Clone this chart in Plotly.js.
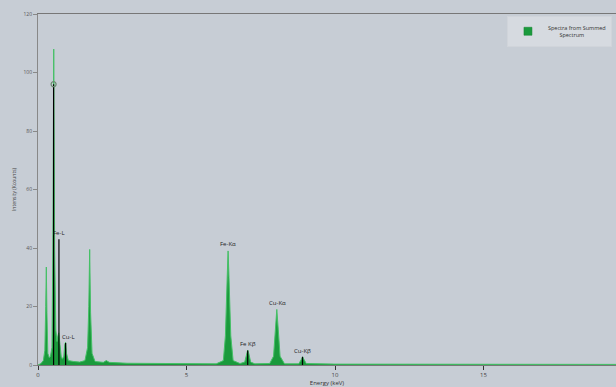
<!DOCTYPE html>
<html>
<head>
<meta charset="utf-8">
<script src="https://cdn.plot.ly/plotly-3.0.1.min.js"></script>
<style>html,body{margin:0;padding:0;background:#c7cdd5;}#chart{width:616px;height:387px;}</style>
</head>
<body>
<div id="chart"></div>
<script>
// Spectrum (energy in keV, intensity in K counts)
const energy = [0.0,0.1,0.18,0.23,0.26,0.28,0.30,0.33,0.38,0.42,0.47,0.50,0.53,0.56,0.60,0.64,0.67,0.70,0.74,0.78,0.82,0.87,0.90,0.93,0.96,1.02,1.2,1.4,1.58,1.67,1.71,1.74,1.77,1.82,1.92,2.2,2.3,2.4,3.0,4.0,5.0,6.0,6.24,6.31,6.37,6.40,6.43,6.49,6.57,6.8,6.96,7.02,7.06,7.10,7.16,7.3,7.8,7.93,7.99,8.04,8.09,8.15,8.3,8.78,8.86,8.91,8.96,9.03,10,15,20];
const counts = [0,0.5,1.5,5,20,33.5,18,4,2.5,3,6,40,108,40,12,8,10,11,7,3,2,3,7,7.8,4,1.5,1.2,1.0,1.5,6,20,39.5,18,4,1.2,0.9,1.5,0.9,0.6,0.5,0.4,0.4,1.5,10,30,39,30,10,1.5,0.5,1.0,3.8,5.1,3.8,1,0.4,0.5,3,12,19,12,3,0.4,0.4,1.8,2.8,1.8,0.5,0.3,0.2,0.2];

// Element marker lines
const lineNames = ["O", "Fe-L", "Cu-L", "Fe-Kα", "Fe Kβ", "Cu-Kα", "Cu-Kβ"];
const lineEnergy = [0.525, 0.705, 0.93, 6.40, 7.06, 8.05, 8.905];
const lineHeight = [96, 43, 7.5, 0, 5, 0, 2.8];

// Peak labels
const labelText = ["Fe-L", "Cu-L", "Fe-Kα", "Fe Kβ", "Cu-Kα", "Cu-Kβ"];
const labelEnergy = [0.70, 1.02, 6.40, 7.06, 8.05, 8.905];
const labelHeight = [43, 7.5, 39.3, 5.1, 19.2, 2.9];

const xTicks = [0, 5, 10, 15];
const yTicks = [0, 20, 40, 60, 80, 100, 120];

const fontFam = 'Open Sans, DejaVu Sans, sans-serif';
const traces = [{
  x: energy, y: counts, type: 'scatter', mode: 'lines',
  fill: 'tozeroy', fillcolor: '#1a9a3c',
  line: {color: '#45c066', width: 1},
  name: 'Spectrum', showlegend: false
}, {
  x: [null], y: [null], type: 'scatter', mode: 'markers',
  marker: {symbol: 'square', size: 8, color: '#1a9a3c', line: {color: '#14802f', width: 0.5}},
  name: 'Spectra from Summed<br>        Spectrum', showlegend: true
}];
lineEnergy.forEach((e, i) => {
  if (lineHeight[i] > 0) {
    traces.push({x: [e, e], y: [0, lineHeight[i]], type: 'scatter', mode: 'lines',
      line: {color: '#000', width: 1.2}, showlegend: false, hoverinfo: 'skip'});
  }
});
traces.push({x: [lineEnergy[0]], y: [lineHeight[0]], type: 'scatter', mode: 'markers',
  marker: {symbol: 'circle-open', size: 5, color: '#6a8a70', line: {width: 1.2}}, showlegend: false});

const annotations = labelText.map((t, i) => ({
  x: labelEnergy[i], y: labelHeight[i], text: t, showarrow: false,
  yanchor: 'bottom', xanchor: 'center',
  font: {size: 6, color: '#222', family: fontFam}
}));

const layout = {
  width: 616, height: 387,
  margin: {l: 38, r: 0, t: 14, b: 22},
  paper_bgcolor: '#c7cdd5', plot_bgcolor: '#c7cdd5',
  font: {family: fontFam, size: 6, color: '#555'},
  xaxis: {
    range: [0, 19.46], tickvals: xTicks, ticktext: xTicks.map(String),
    ticks: 'outside', ticklen: 4, tickcolor: '#333', showgrid: false, zeroline: false,
    showline: true, linecolor: '#777', linewidth: 1, mirror: true,
    tickfont: {size: 6, color: '#444'},
    title: {text: 'Energy (keV)', font: {size: 6, color: '#333'}, standoff: 0}
  },
  yaxis: {
    range: [0, 120], tickvals: yTicks, ticktext: yTicks.map(String),
    ticks: 'outside', ticklen: 4, tickcolor: '#888', showgrid: false, zeroline: false,
    showline: true, linecolor: '#888', linewidth: 1,
    tickfont: {size: 5, color: '#555'},
    title: {text: 'Intensity (Kcounts)', font: {size: 5, color: '#444'}, standoff: 6}
  },
  legend: {x: 0.993, xanchor: 'right', y: 0.995, yanchor: 'top',
    bgcolor: '#d6dae0', bordercolor: '#d0d4da', borderwidth: 1,
    font: {size: 5.5, color: '#333'}, itemwidth: 30},
  annotations: annotations,
  showlegend: true
};
Plotly.newPlot('chart', traces, layout, {displayModeBar: false, staticPlot: true});
</script>
</body>
</html>
